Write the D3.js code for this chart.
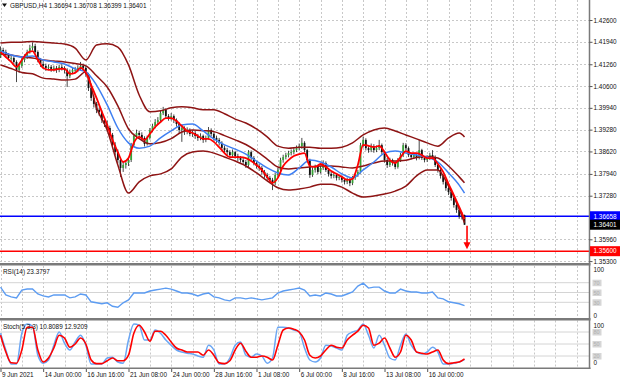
<!DOCTYPE html>
<html><head><meta charset="utf-8">
<script src="https://cdn.jsdelivr.net/npm/d3@7"></script>
<style>body{margin:0;background:#fff}svg{display:block}text{font-family:"Liberation Sans",Arial,sans-serif}</style>
</head><body><svg id="c" width="620" height="383"></svg>
<script>
// ---------------- DATA ----------------
const titleText = "GBPUSD,H4  1.36694 1.36708 1.36399 1.36401";
const rsiTitle = "RSI(14) 23.3797";
const stochTitle = "Stoch(5,3,3) 10.8089 12.9209";

const opens = [
1.4150,1.4169,1.4163,1.4154,1.4145,1.4145,1.4133,1.4109,1.4121,1.4139,
1.4148,1.4163,1.4175,1.4181,1.4163,1.4139,1.4127,1.4121,1.4115,1.4118,
1.4112,1.4115,1.4109,1.4118,1.4115,1.4109,1.4090,1.4103,1.4109,1.4109,
1.4115,1.4121,1.4115,1.4096,1.4054,1.4024,1.4006,1.3988,1.3981,1.3957,
1.3945,1.3933,1.3912,1.3881,1.3860,1.3836,1.3812,1.3821,1.3827,1.3836,
1.3881,1.3909,1.3918,1.3912,1.3903,1.3885,1.3903,1.3927,1.3939,1.3951,
1.3957,1.3978,1.3988,1.3969,1.3963,1.3969,1.3957,1.3945,1.3927,1.3933,
1.3921,1.3927,1.3915,1.3918,1.3909,1.3903,1.3909,1.3897,1.3903,1.3927,
1.3915,1.3903,1.3897,1.3888,1.3873,1.3866,1.3860,1.3851,1.3860,1.3848,
1.3842,1.3836,1.3830,1.3821,1.3860,1.3842,1.3827,1.3818,1.3812,1.3800,
1.3791,1.3782,1.3776,1.3766,1.3791,1.3806,1.3836,1.3845,1.3851,1.3857,
1.3860,1.3866,1.3872,1.3878,1.3888,1.3866,1.3836,1.3791,1.3806,1.3815,
1.3800,1.3812,1.3827,1.3806,1.3794,1.3788,1.3791,1.3782,1.3785,1.3776,
1.3770,1.3776,1.3766,1.3782,1.3791,1.3800,1.3881,1.3897,1.3872,1.3866,
1.3878,1.3866,1.3872,1.3881,1.3860,1.3836,1.3821,1.3836,1.3827,1.3815,
1.3836,1.3851,1.3881,1.3872,1.3851,1.3845,1.3851,1.3842,1.3866,1.3842,
1.3836,1.3842,1.3851,1.3845,1.3821,1.3806,1.3788,1.3770,1.3751,1.3739,
1.3721,1.3700,1.3685,1.3666,1.36694];
const highs = [
1.4180,1.4176,1.4170,1.4160,1.4153,1.4150,1.4138,1.4128,1.4145,1.4156,
1.4170,1.4185,1.4192,1.4188,1.4168,1.4145,1.4135,1.4128,1.4125,1.4124,
1.4122,1.4121,1.4125,1.4126,1.4120,1.4114,1.4110,1.4116,1.4118,1.4123,
1.4133,1.4128,1.4120,1.4100,1.4060,1.4032,1.4012,1.3995,1.3986,1.3966,
1.3955,1.3940,1.3918,1.3890,1.3868,1.3842,1.3830,1.3836,1.3845,1.3888,
1.3916,1.3928,1.3925,1.3920,1.3908,1.3910,1.3933,1.3946,1.3960,1.3966,
1.3985,1.3997,1.3992,1.3975,1.3978,1.3974,1.3962,1.3950,1.3940,1.3938,
1.3935,1.3932,1.3926,1.3924,1.3915,1.3917,1.3913,1.3910,1.3936,1.3932,
1.3920,1.3910,1.3903,1.3893,1.3880,1.3873,1.3866,1.3868,1.3864,1.3855,
1.3848,1.3843,1.3836,1.3866,1.3865,1.3848,1.3832,1.3824,1.3818,1.3806,
1.3797,1.3788,1.3782,1.3797,1.3812,1.3843,1.3852,1.3858,1.3864,1.3868,
1.3874,1.3880,1.3886,1.3903,1.3893,1.3870,1.3840,1.3814,1.3822,1.3820,
1.3818,1.3835,1.3832,1.3812,1.3800,1.3798,1.3796,1.3792,1.3790,1.3782,
1.3783,1.3781,1.3788,1.3797,1.3806,1.3888,1.3906,1.3902,1.3878,1.3886,
1.3884,1.3880,1.3897,1.3886,1.3864,1.3842,1.3843,1.3840,1.3832,1.3842,
1.3858,1.3888,1.3887,1.3877,1.3857,1.3858,1.3856,1.3897,1.3870,1.3848,
1.3850,1.3858,1.3866,1.3850,1.3826,1.3812,1.3793,1.3775,1.3757,1.3745,
1.3726,1.3705,1.3690,1.3678,1.36708];
const lows = [
1.4145,1.4155,1.4146,1.4138,1.4136,1.4125,1.4072,1.4100,1.4115,1.4132,
1.4142,1.4158,1.4168,1.4158,1.4132,1.4118,1.4112,1.4106,1.4108,1.4103,
1.4104,1.4100,1.4102,1.4107,1.4098,1.4057,1.4084,1.4096,1.4100,1.4102,
1.4108,1.4106,1.4088,1.4045,1.4015,1.3995,1.3978,1.3970,1.3948,1.3936,
1.3922,1.3902,1.3872,1.3850,1.3826,1.3785,1.3800,1.3810,1.3818,1.3830,
1.3875,1.3900,1.3903,1.3895,1.3877,1.3880,1.3898,1.3920,1.3932,1.3944,
1.3950,1.3972,1.3962,1.3955,1.3956,1.3948,1.3937,1.3918,1.3891,1.3912,
1.3914,1.3908,1.3906,1.3900,1.3894,1.3896,1.3888,1.3890,1.3898,1.3908,
1.3895,1.3888,1.3880,1.3865,1.3857,1.3851,1.3843,1.3845,1.3840,1.3833,
1.3828,1.3822,1.3812,1.3815,1.3835,1.3820,1.3810,1.3803,1.3792,1.3782,
1.3773,1.3766,1.3745,1.3760,1.3785,1.3800,1.3828,1.3838,1.3844,1.3850,
1.3853,1.3860,1.3865,1.3870,1.3860,1.3828,1.3782,1.3785,1.3798,1.3793,
1.3795,1.3806,1.3800,1.3786,1.3780,1.3781,1.3774,1.3775,1.3768,1.3762,
1.3763,1.3757,1.3760,1.3776,1.3785,1.3795,1.3874,1.3865,1.3858,1.3860,
1.3858,1.3860,1.3866,1.3853,1.3828,1.3812,1.3815,1.3819,1.3808,1.3810,
1.3830,1.3845,1.3865,1.3845,1.3838,1.3840,1.3835,1.3838,1.3836,1.3829,
1.3830,1.3836,1.3838,1.3815,1.3798,1.3780,1.3762,1.3743,1.3730,1.3713,
1.3692,1.3676,1.3658,1.3656,1.36399];
const closes = [
1.4169,1.4163,1.4154,1.4145,1.4145,1.4133,1.4109,1.4121,1.4139,1.4148,
1.4163,1.4175,1.4181,1.4163,1.4139,1.4127,1.4121,1.4115,1.4118,1.4112,
1.4115,1.4109,1.4118,1.4115,1.4109,1.4090,1.4103,1.4109,1.4109,1.4115,
1.4121,1.4115,1.4096,1.4054,1.4024,1.4006,1.3988,1.3981,1.3957,1.3945,
1.3933,1.3912,1.3881,1.3860,1.3836,1.3812,1.3821,1.3827,1.3836,1.3881,
1.3909,1.3918,1.3912,1.3903,1.3885,1.3903,1.3927,1.3939,1.3951,1.3957,
1.3978,1.3988,1.3969,1.3963,1.3969,1.3957,1.3945,1.3927,1.3933,1.3921,
1.3927,1.3915,1.3918,1.3909,1.3903,1.3909,1.3897,1.3903,1.3927,1.3915,
1.3903,1.3897,1.3888,1.3873,1.3866,1.3860,1.3851,1.3860,1.3848,1.3842,
1.3836,1.3830,1.3821,1.3860,1.3842,1.3827,1.3818,1.3812,1.3800,1.3791,
1.3782,1.3776,1.3766,1.3791,1.3806,1.3836,1.3845,1.3851,1.3857,1.3860,
1.3866,1.3872,1.3878,1.3888,1.3866,1.3836,1.3791,1.3806,1.3815,1.3800,
1.3812,1.3827,1.3806,1.3794,1.3788,1.3791,1.3782,1.3785,1.3776,1.3770,
1.3776,1.3766,1.3782,1.3791,1.3800,1.3881,1.3897,1.3872,1.3866,1.3878,
1.3866,1.3872,1.3881,1.3860,1.3836,1.3821,1.3836,1.3827,1.3815,1.3836,
1.3851,1.3881,1.3872,1.3851,1.3845,1.3851,1.3842,1.3866,1.3842,1.3836,
1.3842,1.3851,1.3845,1.3821,1.3806,1.3788,1.3770,1.3751,1.3739,1.3721,
1.3700,1.3685,1.3666,1.36694,1.36401];

// indicator lines, read every 4th bar (last = final bar)
const upperBand = [
1.4190,1.4193,1.4193,1.4195,1.4193,1.4190,1.4187,1.4175,1.4139,1.4184,
1.4188,1.4178,1.4124,1.4033,1.3982,1.3985,1.3994,1.3997,1.3994,1.3988,
1.3988,1.3976,1.3960,1.3948,1.3930,1.3906,1.3878,1.3872,1.3875,1.3875,
1.3872,1.3872,1.3875,1.3888,1.3912,1.3927,1.3933,1.3924,1.3912,1.3900,
1.3888,1.3878,1.3903,1.3918,1.3906];
const middleBand = [
1.4157,1.4154,1.4148,1.4145,1.4139,1.4136,1.4133,1.4128,1.4121,1.4091,
1.4057,1.4000,1.3930,1.3901,1.3885,1.3889,1.3901,1.3921,1.3927,1.3925,
1.3922,1.3910,1.3897,1.3883,1.3863,1.3839,1.3815,1.3809,1.3812,1.3815,
1.3818,1.3818,1.3815,1.3812,1.3818,1.3827,1.3833,1.3833,1.3835,1.3844,
1.3847,1.3842,1.3818,1.3785,1.3767];
const lowerBand = [
1.4124,1.4113,1.4101,1.4097,1.4084,1.4081,1.4078,1.4081,1.4103,1.3994,
1.3927,1.3821,1.3736,1.3770,1.3788,1.3794,1.3809,1.3845,1.3860,1.3863,
1.3857,1.3845,1.3833,1.3818,1.3797,1.3773,1.3752,1.3745,1.3748,1.3754,
1.3763,1.3763,1.3754,1.3736,1.3724,1.3727,1.3733,1.3742,1.3757,1.3788,
1.3806,1.3806,1.3757,1.3688,1.3646];
const slowMA = [
1.4166,1.4154,1.4148,1.4151,1.4139,1.4133,1.4127,1.4112,1.4103,1.4063,
1.4003,1.3933,1.3888,1.3872,1.3878,1.3903,1.3924,1.3942,1.3945,1.3924,
1.3900,1.3882,1.3869,1.3854,1.3833,1.3812,1.3797,1.3791,1.3812,1.3836,
1.3830,1.3815,1.3794,1.3782,1.3806,1.3830,1.3857,1.3863,1.3857,1.3851,
1.3845,1.3830,1.3797,1.3760,1.3736];
// read every 2nd bar
const fastMA = [
1.4163,1.4148,1.4133,1.4118,1.4139,1.4160,1.4166,1.4139,1.4115,1.4109,
1.4109,1.4112,1.4112,1.4097,1.4100,1.4115,1.4100,1.4063,1.4024,1.3982,
1.3942,1.3897,1.3860,1.3830,1.3842,1.3888,1.3906,1.3897,1.3915,1.3936,
1.3951,1.3963,1.3963,1.3954,1.3939,1.3924,1.3918,1.3909,1.3900,1.3900,
1.3891,1.3875,1.3857,1.3845,1.3845,1.3845,1.3842,1.3833,1.3821,1.3806,
1.3785,1.3767,1.3782,1.3818,1.3836,1.3848,1.3854,1.3857,1.3818,1.3815,
1.3824,1.3815,1.3803,1.3794,1.3785,1.3776,1.3779,1.3821,1.3882,1.3879,
1.3875,1.3879,1.3860,1.3836,1.3827,1.3845,1.3863,1.3857,1.3857,1.3851,
1.3842,1.3842,1.3824,1.3800,1.3764,1.3730,1.3694,1.3657];
const rsiValues = [
61,45,41,39,55,57,57,47,43,41,
45,45,45,39,41,47,45,31,29,27,
29,22,20,29,35,49,49,49,53,55,
57,59,57,53,49,49,47,43,47,49,
41,39,35,33,39,39,37,39,37,35,
37,39,49,53,55,57,59,55,43,45,
43,49,47,43,43,47,51,63,69,59,
61,61,53,49,49,57,53,51,51,49,
49,51,39,37,31,29,27,23.38];
const stochMain = [
77,35,0,0,77,100,95,22,2,10,
47,80,52,35,55,72,47,0,0,0,
15,17,5,2,60,100,97,60,60,85,
77,60,47,35,30,27,25,20,17,47,
35,0,0,15,47,55,22,17,25,20,
2,15,92,92,90,85,80,40,10,5,
15,47,45,40,35,72,80,85,100,72,
40,72,47,15,10,47,75,47,30,25,
30,42,30,0,0,2,5,10.81];
const stochSignal = [
72,30,3,2,35,92,92,35,5,15,
40,72,65,42,50,65,50,10,1,1,
8,15,8,8,22,77,97,80,57,82,
82,72,55,40,35,30,30,30,22,35,
22,3,1,8,35,52,32,17,17,20,
17,10,47,85,90,87,80,60,22,15,
20,35,47,42,40,60,72,82,97,90,
47,52,65,40,17,30,72,60,30,27,
25,30,35,10,1,3,5,12.92];

const priceTicks = [1.42600,1.41940,1.41260,1.40600,1.39940,1.39280,1.38620,1.37940,1.37280,1.35960,1.35300];
const timeTickBars = [0,16,32,48,64,80,96,112,128,144,160];
const timeTickLabels = ["9 Jun 2021","14 Jun 00:00","16 Jun 16:00","21 Jun 08:00","24 Jun 00:00","28 Jun 16:00","1 Jul 08:00","6 Jul 00:00","8 Jul 16:00","13 Jul 08:00","16 Jul 00:00"];
const supportLevel = 1.36658, targetLevel = 1.35600, lastPrice = 1.36401;
const rsiLevels = [70,50,30];
const stochLevels = [80,50,20];

// ---------------- DRAW ----------------
const svg = d3.select("#c");
const W = 589.5;
const FS = 6.4;
const x = d3.scaleLinear().domain([0, 220]).range([0.5, 587.2]);
const y = d3.scaleLinear().domain([1.35300, 1.42600]).range([261.1, 20]);
const rsiY = d3.scaleLinear().domain([0, 100]).range([317, 268]);
const stY = d3.scaleLinear().domain([0, 100]).range([364, 324]);
const gridBars = d3.range(0, 220, 8);
const bandIdx = d3.range(0, 173, 4).concat([174]);
const halfIdx = d3.range(0, 175, 2);

const defs = svg.append("defs");
defs.append("clipPath").attr("id","mainClip").append("rect").attr("x",0).attr("y",0).attr("width",W).attr("height",263);
defs.append("clipPath").attr("id","rsiClip").append("rect").attr("x",0).attr("y",266).attr("width",W).attr("height",52);
defs.append("clipPath").attr("id","stClip").append("rect").attr("x",0).attr("y",320.5).attr("width",W).attr("height",47);

const gridCol = "#c8c8c8";
function vgrid(y0, y1) {
  svg.append("g").selectAll("line").data(gridBars).join("line")
    .attr("x1", d => Math.round(x(d)) + 0.5).attr("x2", d => Math.round(x(d)) + 0.5)
    .attr("y1", y0).attr("y2", y1)
    .attr("stroke", gridCol).attr("stroke-width", 1).attr("stroke-dasharray", "2,2");
}
vgrid(0, 263); vgrid(266, 318); vgrid(320.5, 367.5);

svg.append("g").selectAll("line").data(priceTicks).join("line")
  .attr("x1", 0).attr("x2", W).attr("y1", d => Math.round(y(d)) + 0.5).attr("y2", d => Math.round(y(d)) + 0.5)
  .attr("stroke", gridCol).attr("stroke-dasharray", "2,2");

svg.append("g").selectAll("line").data(rsiLevels).join("line")
  .attr("x1", 0).attr("x2", W).attr("y1", d => rsiY(d)).attr("y2", d => rsiY(d))
  .attr("stroke", "#d4d4d4").attr("stroke-width", 1);
svg.append("g").selectAll("line").data(stochLevels).join("line")
  .attr("x1", 0).attr("x2", W).attr("y1", d => stY(d)).attr("y2", d => stY(d))
  .attr("stroke", "#d4d4d4").attr("stroke-width", 1);

const main = svg.append("g").attr("clip-path", "url(#mainClip)");
main.append("line").attr("x1",0).attr("x2",W).attr("y1",y(supportLevel)).attr("y2",y(supportLevel))
  .attr("stroke","#0000ff").attr("stroke-width",1.4);
main.append("line").attr("x1",0).attr("x2",W).attr("y1",y(targetLevel)).attr("y2",y(targetLevel))
  .attr("stroke","#ff0000").attr("stroke-width",1.4);

const bars = closes.map((c, i) => ({i, o: opens[i], h: highs[i], l: lows[i], c}));
const cg = main.append("g");
cg.selectAll("line").data(bars).join("line")
  .attr("x1", d => x(d.i)).attr("x2", d => x(d.i))
  .attr("y1", d => y(d.h)).attr("y2", d => y(d.l))
  .attr("stroke", "#1a1a1a").attr("stroke-width", 0.8);
cg.selectAll("rect").data(bars).join("rect")
  .attr("x", d => x(d.i) - 0.9).attr("width", 1.8)
  .attr("y", d => y(Math.max(d.o, d.c)))
  .attr("height", d => Math.max(0.8, Math.abs(y(d.o) - y(d.c))))
  .attr("fill", d => d.c >= d.o ? "#36a336" : "#111");

function lineOf(idx, vals, sy, curve) {
  return d3.line().x((d, k) => x(idx[k])).y(d => sy(d)).curve(curve || d3.curveMonotoneX)(vals);
}
const bandCol = "#8e1414";
[upperBand, middleBand, lowerBand].forEach(b => {
  main.append("path").attr("d", lineOf(bandIdx, b, y)).attr("fill","none")
    .attr("stroke", bandCol).attr("stroke-width", 1.5);
});
main.append("path").attr("d", lineOf(bandIdx, slowMA, y)).attr("fill","none")
  .attr("stroke", "#3f7ff2").attr("stroke-width", 1.5);
main.append("path").attr("d", lineOf(halfIdx, fastMA, y)).attr("fill","none")
  .attr("stroke", "#ff0000").attr("stroke-width", 1.8);

const ax = x(174) + 2.5;
const tip = y(targetLevel) - 2;
main.append("line").attr("x1", ax).attr("x2", ax).attr("y1", y(lastPrice) + 1).attr("y2", tip - 5)
  .attr("stroke", "#ff0000").attr("stroke-width", 1.6);
main.append("path").attr("d", `M${ax - 3.5},${tip - 7}L${ax + 3.5},${tip - 7}L${ax},${tip}Z`).attr("fill", "#ff0000");

svg.append("g").attr("clip-path","url(#rsiClip)").append("path")
  .attr("d", lineOf(halfIdx, rsiValues, rsiY, d3.curveLinear)).attr("fill","none")
  .attr("stroke","#5c9cf2").attr("stroke-width",1.4);
const sg = svg.append("g").attr("clip-path","url(#stClip)");
sg.append("path").attr("d", lineOf(halfIdx, stochMain, stY)).attr("fill","none")
  .attr("stroke","#6aa6f4").attr("stroke-width",1.5);
sg.append("path").attr("d", lineOf(halfIdx, stochSignal, stY)).attr("fill","none")
  .attr("stroke","#ff0000").attr("stroke-width",1.6);

svg.append("rect").attr("x",0).attr("y",263).attr("width",W+1).attr("height",2.5).attr("fill","#7a7a7a");
svg.append("rect").attr("x",0).attr("y",318).attr("width",W+1).attr("height",2.5).attr("fill","#7a7a7a");
svg.append("rect").attr("x",0).attr("y",367.5).attr("width",W+1).attr("height",1.5).attr("fill","#7a7a7a");
svg.append("line").attr("x1",W).attr("x2",W).attr("y1",0).attr("y2",369).attr("stroke","#7a7a7a").attr("stroke-width",1.5);

const yAxis = svg.append("g").attr("transform", `translate(${W},0)`)
  .call(d3.axisRight(y).tickValues(priceTicks).tickSize(3).tickFormat(d3.format(".5f")));
yAxis.select(".domain").remove();
yAxis.selectAll("line").attr("stroke","#555");
yAxis.selectAll("text").attr("x", 4).attr("font-size", FS).attr("fill", "#111").attr("font-family","Liberation Sans, Arial, sans-serif");

const xAxis = svg.append("g").attr("transform", "translate(0,369)")
  .call(d3.axisBottom(x).tickValues(timeTickBars).tickSize(3).tickFormat((d, k) => timeTickLabels[k]));
xAxis.select(".domain").remove();
xAxis.selectAll("line").attr("stroke","#555");
xAxis.selectAll("text").attr("text-anchor","start").attr("x", 1).attr("y", 3.5).attr("dy","0.71em")
  .attr("font-size", FS).attr("fill","#111").attr("font-family","Liberation Sans, Arial, sans-serif");

function priceBox(v, fill) {
  const yy = y(v);
  svg.append("rect").attr("x", W + 0.5).attr("y", yy - 5).attr("width", 620 - W).attr("height", 10).attr("fill", fill);
  svg.append("text").attr("x", W + 4).attr("y", yy + 2.3).attr("font-size", FS)
    .attr("fill", "#fff").text(d3.format(".5f")(v));
}
priceBox(supportLevel, "#0000ff");
priceBox(lastPrice, "#000000");
priceBox(targetLevel, "#ff0000");

function panelLabels(sc, levels) {
  svg.append("text").attr("x", W + 4).attr("y", sc(100) + 3.6).attr("font-size", FS).attr("fill","#111").text("100");
  svg.append("text").attr("x", W + 4).attr("y", sc(0) + 0.5).attr("font-size", FS).attr("fill","#111").text("0");
  levels.forEach(l => {
    svg.append("rect").attr("x", W + 3).attr("y", sc(l) - 3).attr("width", 9).attr("height", 6.5).attr("fill", "#d6d6d6");
    svg.append("text").attr("x", W + 4).attr("y", sc(l) + 2.2).attr("font-size", 5.5).attr("fill","#b0b0b0").text(String(l));
  });
}
panelLabels(rsiY, rsiLevels);
panelLabels(stY, stochLevels);

svg.append("path").attr("d","M2,3.5L7,3.5L4.5,7Z").attr("fill","#111");
svg.append("text").attr("x", 10).attr("y", 8).attr("font-size", FS).attr("fill","#111").text(titleText);
svg.append("text").attr("x", 3).attr("y", 274).attr("font-size", FS).attr("fill","#111").text(rsiTitle);
svg.append("text").attr("x", 3).attr("y", 329).attr("font-size", FS).attr("fill","#111").text(stochTitle);
</script></body></html>
